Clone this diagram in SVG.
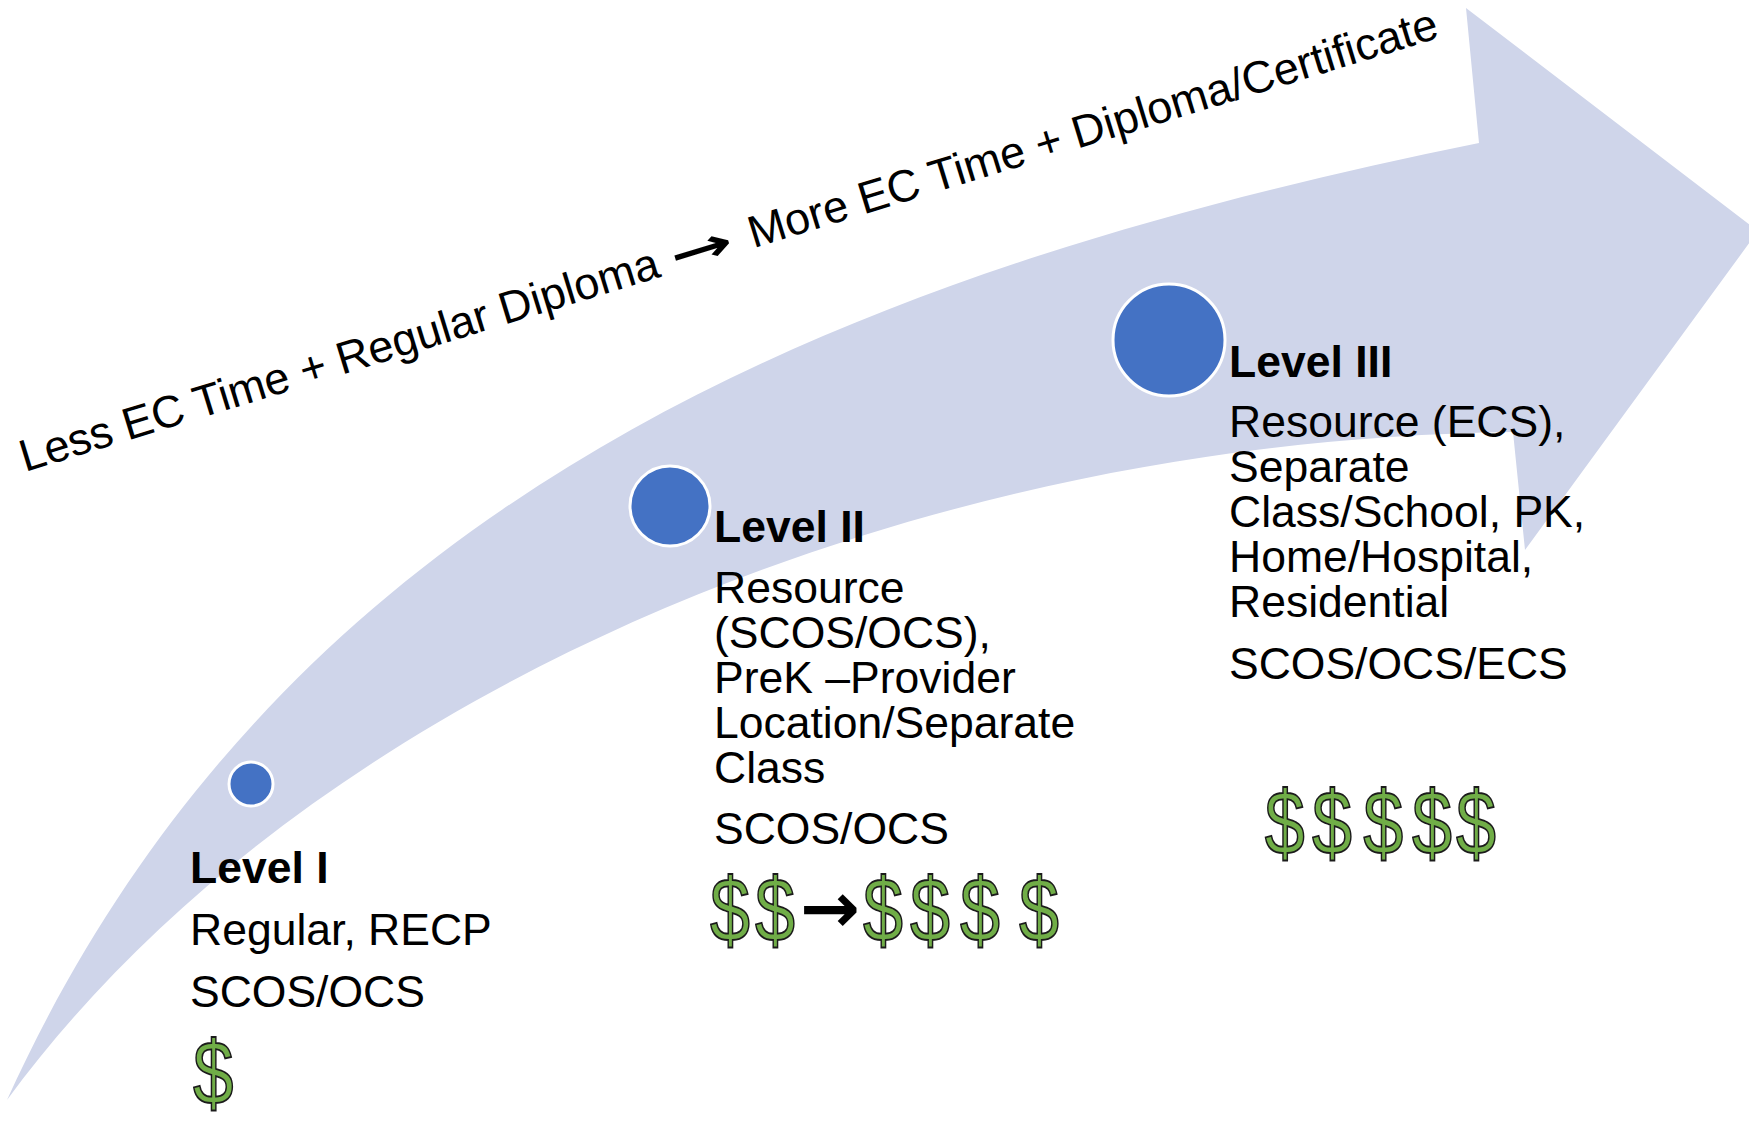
<svg xmlns="http://www.w3.org/2000/svg" width="1749" height="1124" viewBox="0 0 1749 1124">
<style>
.t{font-family:"Liberation Sans",Arial,sans-serif;font-size:44.5px;fill:#000}
.b{font-weight:bold}
.rt{font-family:"Liberation Sans",Arial,sans-serif;font-size:45px;fill:#000}
.ar{font-family:"DejaVu Sans",sans-serif;font-weight:bold;fill:#000}
.d{font-family:"Liberation Sans",Arial,sans-serif;font-size:90px;fill:#70AD47;stroke:#1b1b1b;stroke-width:1.8px}
.dot{fill:#4472C4;stroke:#fff;stroke-width:3}
.band{fill:#CFD5EA}
</style>
<rect width="1749" height="1124" fill="#fff"/>
<g id="connectors">
<path id="progress-arrow" class="band" d="M7,1100 C270,520 800,280 1479,143 L1466,8 L1758,231 L1525,550 L1513,432 C900,440 300,700 7,1100 Z"/>
</g>
<g id="axis-label" transform="translate(25,472) rotate(-17.07)">
<text class="rt" x="0" y="0">Less EC Time + Regular Diploma</text>
<text class="ar" x="680" y="1" font-size="46" textLength="64" lengthAdjust="spacingAndGlyphs">→</text>
<text class="rt" x="762" y="0">More EC Time + Diploma/Certificate</text>
</g>
<g id="level1">
<circle class="dot" cx="251" cy="784" r="22"/>
<text class="t b" x="190" y="883">Level I</text>
<text class="t" x="190" y="945">Regular, RECP</text>
<text class="t" x="190" y="1007">SCOS/OCS</text>
<text class="d" font-size="88" transform="translate(193,1104) scale(0.81,1)">$</text>
</g>
<g id="level2">
<circle class="dot" cx="670" cy="506" r="40"/>
<text class="t b" x="714" y="542">Level II</text>
<text class="t" x="714" y="603">Resource</text>
<text class="t" x="714" y="648">(SCOS/OCS),</text>
<text class="t" x="714" y="693">PreK –Provider</text>
<text class="t" x="714" y="738">Location/Separate</text>
<text class="t" x="714" y="783">Class</text>
<text class="t" x="714" y="844">SCOS/OCS</text>
<text class="d" transform="translate(0,941) scale(0.8,1)"><tspan x="887.5">$</tspan><tspan x="943.75">$</tspan></text>
<text class="ar" x="800" y="932" font-size="70" textLength="60" lengthAdjust="spacingAndGlyphs">→</text>
<text class="d" transform="translate(0,941) scale(0.8,1)"><tspan x="1078.75">$</tspan><tspan x="1137.5">$</tspan><tspan x="1200">$</tspan> <tspan x="1273.75">$</tspan></text>
</g>
<g id="level3">
<circle class="dot" cx="1169" cy="340" r="56"/>
<text class="t b" x="1229" y="377">Level III</text>
<text class="t" x="1229" y="437">Resource (ECS),</text>
<text class="t" x="1229" y="482">Separate</text>
<text class="t" x="1229" y="527">Class/School, PK,</text>
<text class="t" x="1229" y="572">Home/Hospital,</text>
<text class="t" x="1229" y="617">Residential</text>
<text class="t" x="1229" y="679">SCOS/OCS/ECS</text>
<text class="d" transform="translate(0,854) scale(0.8,1)"><tspan x="1581">$</tspan><tspan x="1640">$</tspan><tspan x="1704">$</tspan><tspan x="1765">$</tspan><tspan x="1820">$</tspan></text>
</g>
</svg>
